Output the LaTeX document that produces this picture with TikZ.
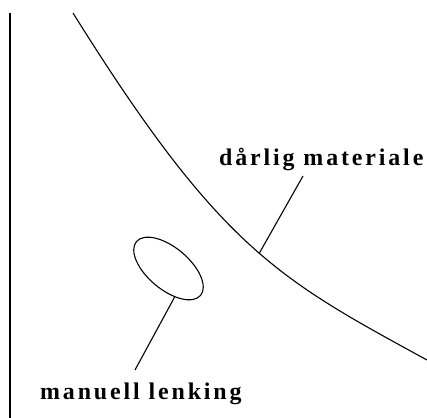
\documentclass[tikz,border=0pt]{standalone}
\usepackage{fontspec}
\setmainfont{Liberation Serif}
\newfontfamily\spacedfont[LetterSpace=12,BoldFont={Liberation Serif Bold}]{Liberation Serif}
\usetikzlibrary{shapes.geometric}
\tikzset{
  edge/.style={line width=1.1pt},
  lead/.style={line width=1.1pt},
  loopy/.style={draw,ellipse,line width=1.1pt,inner sep=0pt,minimum width=84,minimum height=42,rotate=-40},
  lbl/.style={font=\spacedfont\bfseries\fontsize{24}{28}\selectfont,inner sep=0pt,anchor=base west}
}
\begin{document}
\begin{tikzpicture}[x=1bp,y=-1bp]
\useasboundingbox (0,0) rectangle (427,418);
\draw[edge] (10,13) -- (10,418);
\draw[edge] (73,13) .. controls (221,250) and (279,279) .. (427,360) coordinate[pos=0.53] (hit);
\node[lbl] (mat) at (219,165) {dårlig materiale};
\coordinate (matTip) at (303,176);
\draw[lead] (hit) -- (matTip);
\node[loopy] (loop) at (168.5,268.5) {};
\node[lbl] (lenk) at (40,399) {manuell lenking};
\coordinate (lenkTip) at (135,370);
\draw[lead] (loop.-38) -- (lenkTip);
\end{tikzpicture}
\end{document}
